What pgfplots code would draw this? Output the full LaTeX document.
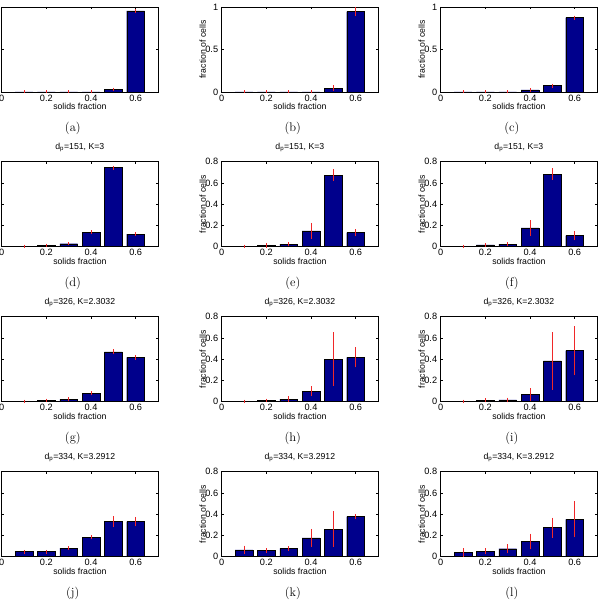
\documentclass[border=0pt]{standalone}
\usepackage{fontspec}
\usepackage{pgfplots}
\usepackage{pgfplotstable}
\pgfplotsset{compat=1.18}
\newfontfamily\axfont{Liberation Sans}
\definecolor{barblue}{RGB}{0,0,140}
\definecolor{ebred}{RGB}{240,40,40}
% x = solids fraction, y = fraction of cells, e = error
\pgfplotstableread{
x y e
0.1 0 0
0.2 0 0
0.3 0 0
0.4 0.002 0.002
0.5 0.03 0.005
0.6 0.953 0.005
}\ta
\pgfplotstableread{
x y e
0.1 0 0
0.2 0 0
0.3 0 0
0.4 0.002 0.002
0.5 0.044 0.02
0.6 0.945 0.035
}\tb
\pgfplotstableread{
x y e
0.1 0 0
0.2 0.001 0.001
0.3 0.002 0.001
0.4 0.024 0.005
0.5 0.074 0.008
0.6 0.874 0.008
}\tc
\pgfplotstableread{
x y e
0.1 0.003 0.002
0.2 0.013 0.002
0.3 0.028 0.002
0.4 0.135 0.004
0.5 0.744 0.005
0.6 0.119 0.004
}\td
\pgfplotstableread{
x y e
0.1 0.003 0.002
0.2 0.013 0.008
0.3 0.025 0.006
0.4 0.15 0.06
0.5 0.674 0.04
0.6 0.132 0.02
}\te
\pgfplotstableread{
x y e
0.1 0.003 0.002
0.2 0.016 0.004
0.3 0.025 0.005
0.4 0.176 0.06
0.5 0.684 0.04
0.6 0.104 0.03
}\tf
\pgfplotstableread{
x y e
0.1 0.003 0.002
0.2 0.0125 0.003
0.3 0.022 0.004
0.4 0.078 0.005
0.5 0.47 0.01
0.6 0.417 0.01
}\tg
\pgfplotstableread{
x y e
0.1 0.003 0.002
0.2 0.0125 0.003
0.3 0.025 0.01
0.4 0.10 0.03
0.5 0.40 0.24
0.6 0.417 0.08
}\th
\pgfplotstableread{
x y e
0.1 0.003 0.002
0.2 0.0125 0.005
0.3 0.016 0.008
0.4 0.066 0.045
0.5 0.383 0.255
0.6 0.48 0.215
}\ti
\pgfplotstableread{
x y e
0.1 0.047 0.003
0.2 0.047 0.003
0.3 0.081 0.004
0.4 0.184 0.008
0.5 0.333 0.035
0.6 0.33 0.03
}\tj
\pgfplotstableread{
x y e
0.1 0.065 0.025
0.2 0.059 0.008
0.3 0.078 0.008
0.4 0.178 0.07
0.5 0.259 0.155
0.6 0.377 0.01
}\tk
\pgfplotstableread{
x y e
0.1 0.04 0.025
0.2 0.05 0.015
0.3 0.075 0.03
0.4 0.143 0.06
0.5 0.274 0.08
0.6 0.352 0.155
}\tl
\pgfplotsset{
  panel/.style={
    width=156.3pt, height=85pt, scale only axis, anchor=south west,
    clip=false, axis line style={line width=0.7pt},
    xmin=0, xmax=0.7, xtick={0,0.2,0.4,0.6},
    tick align=inside, major tick length=2pt,
    tick style={line width=0.5pt, black},
    /pgf/number format/assume math mode=true,
    ticklabel style={font=\axfont\fontsize{9.2}{10}\selectfont},
    xticklabel style={yshift=0.8pt},
    label style={font=\axfont\fontsize{8.7}{10}\selectfont},
    title style={font=\axfont\fontsize{8.7}{10}\selectfont},
    every axis title shift=0pt,
    xlabel={solids fraction},
    xlabel style={at={(axis description cs:0.5,-0.132)}, anchor=north, inner sep=0pt},
    ylabel={fraction of cells},
    ylabel style={at={(axis description cs:-0.1,0.5)}, anchor=south, inner sep=0pt},
    title style={at={(axis description cs:0.5,1.141)}, anchor=base, inner sep=0pt},
  },
  rowA/.style={ymin=0, ymax=1, ytick={0,0.5,1}},
  rowB/.style={ymin=0, ymax=0.8, ytick={0,0.2,0.4,0.6,0.8}},
  bars/.style={ybar, bar width=0.08, fill=barblue, draw=black, line width=0.4pt},
  errs/.style={draw=none, mark=none, forget plot,
    error bars/.cd, y dir=both, y explicit,
    error bar style={draw=ebred, line width=0.9pt, solid},
    error mark options={draw=ebred, mark size=1.5pt, line width=0.8pt}},
}
\newcommand{\panel}[2]{%
  \addplot[bars] table[x=x, y=y] {#1};
  \addplot[errs] table[x=x, y=y, y error=e] {#1};
  \node[font=\fontsize{12.5}{14}\selectfont, anchor=center] at (axis description cs:0.455,-0.43) {(#2)};}
\begin{document}
\begin{tikzpicture}[x=1pt,y=1pt]
\begin{scope}
\clip (0,0) rectangle (603,601);
% Row 1
\begin{axis}[panel, rowA, at={(1.7pt,509pt)}, title={d\textsubscript{p}=151, K=3}]
\panel{\ta}{a}
\end{axis}
\begin{axis}[panel, rowA, at={(221.7pt,509pt)}, title={d\textsubscript{p}=151, K=3}]
\panel{\tb}{b}
\end{axis}
\begin{axis}[panel, rowA, at={(440.7pt,509pt)}, title={d\textsubscript{p}=151, K=3}]
\panel{\tc}{c}
\end{axis}
% Row 2
\begin{axis}[panel, rowB, at={(1.7pt,354.3pt)}, title={d\textsubscript{p}=151, K=3}]
\panel{\td}{d}
\end{axis}
\begin{axis}[panel, rowB, at={(221.7pt,354.3pt)}, title={d\textsubscript{p}=151, K=3}]
\panel{\te}{e}
\end{axis}
\begin{axis}[panel, rowB, at={(440.7pt,354.3pt)}, title={d\textsubscript{p}=151, K=3}]
\panel{\tf}{f}
\end{axis}
% Row 3
\begin{axis}[panel, rowB, at={(1.7pt,199.3pt)}, title={d\textsubscript{p}=326, K=2.3032}]
\panel{\tg}{g}
\end{axis}
\begin{axis}[panel, rowB, at={(221.7pt,199.3pt)}, title={d\textsubscript{p}=326, K=2.3032}]
\panel{\th}{h}
\end{axis}
\begin{axis}[panel, rowB, at={(440.7pt,199.3pt)}, title={d\textsubscript{p}=326, K=2.3032}]
\panel{\ti}{i}
\end{axis}
% Row 4
\begin{axis}[panel, rowB, at={(1.7pt,44.3pt)}, title={d\textsubscript{p}=334, K=3.2912}]
\panel{\tj}{j}
\end{axis}
\begin{axis}[panel, rowB, at={(221.7pt,44.3pt)}, title={d\textsubscript{p}=334, K=3.2912}]
\panel{\tk}{k}
\end{axis}
\begin{axis}[panel, rowB, at={(440.7pt,44.3pt)}, title={d\textsubscript{p}=334, K=3.2912}]
\panel{\tl}{l}
\end{axis}
\end{scope}
\pgfresetboundingbox
\path[use as bounding box] (0,0) rectangle (603,601);
\end{tikzpicture}
\end{document}
